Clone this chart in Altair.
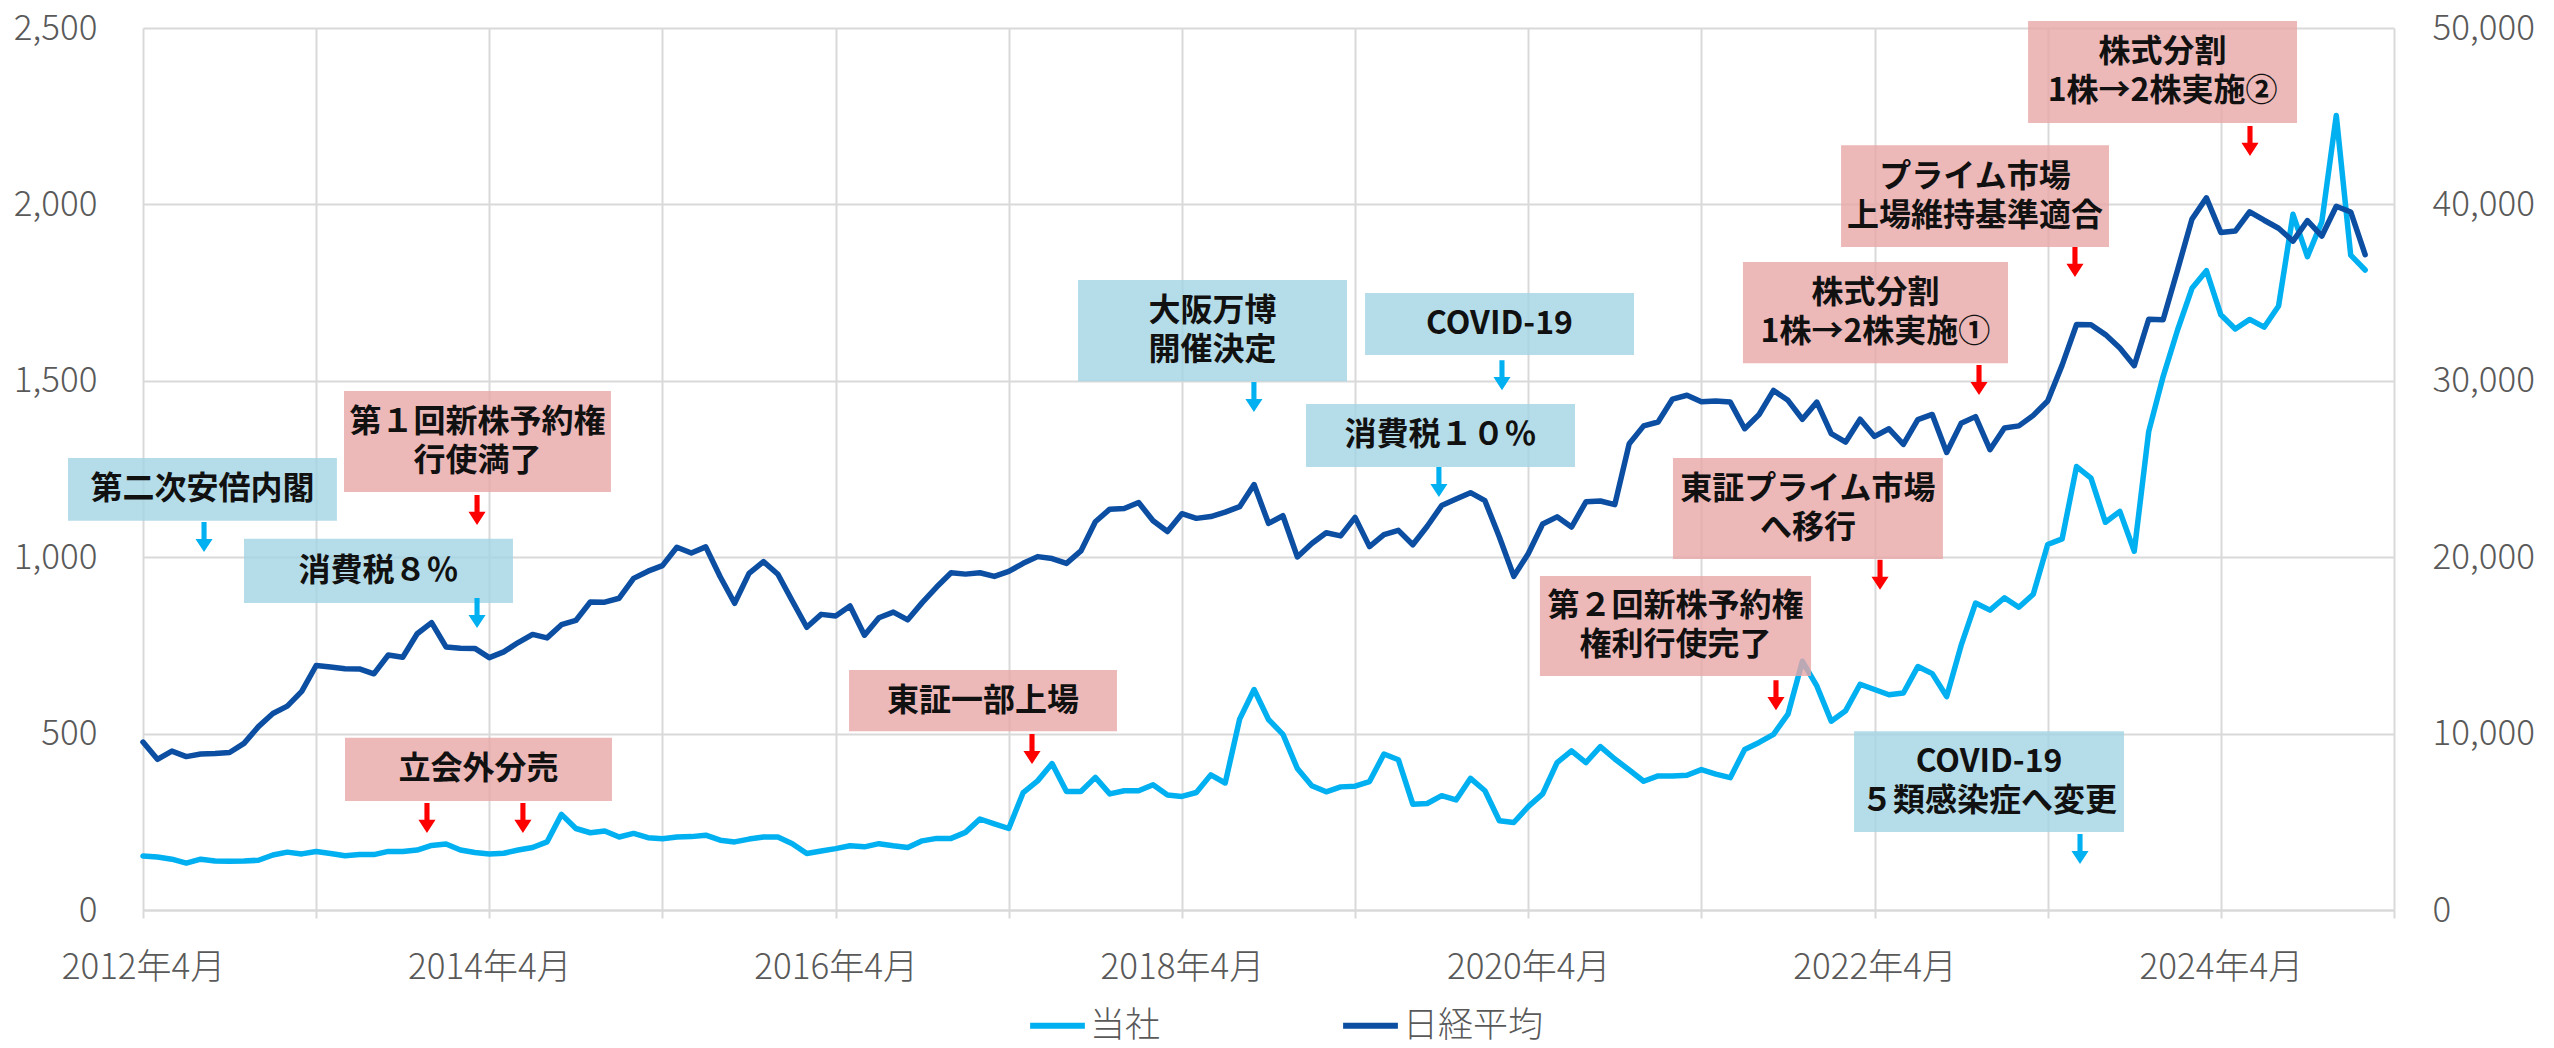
import altair as alt
import pandas as pd

# ---------------- data (one value per month, starting April 2012) ----------------
FIRST_YEAR = 2012

stock = [
    153, 150, 144, 133, 144, 139, 138, 139, 141, 156,
    164, 159, 166, 160, 154, 157, 157, 166, 166, 170,
    183, 187, 170, 163, 159, 161, 170, 177, 193, 271,
    231, 219, 224, 207, 217, 205, 202, 207, 208, 212,
    198, 193, 201, 207, 207, 188, 160, 167, 174, 182,
    179, 188, 182, 177, 196, 203, 203, 220, 258, 244,
    231, 333, 366, 415, 336, 336, 376, 329, 338, 338,
    355, 326, 322, 333, 383, 360, 541, 625, 540, 498,
    401, 352, 335, 349, 351, 364, 442, 426, 300, 302,
    324, 312, 373, 338, 253, 248, 293, 329, 418, 451,
    418, 463, 428, 397, 365, 380, 380, 382, 398, 385,
    375, 455, 475, 498, 555, 705, 635, 535, 565, 640,
    625, 610, 615, 690, 670, 605, 750, 870, 850, 885,
    858, 895, 1036, 1052, 1257, 1224, 1099, 1130, 1017, 1356,
    1512, 1644, 1762, 1812, 1687, 1647, 1674, 1652, 1712, 1972,
    1852, 1951, 2252, 1856, 1814,
]

nikkei = [
    9521, 8543, 9007, 8695, 8840, 8870, 8928, 9446, 10395,
    11139, 11559, 12398, 13861, 13775, 13677, 13668, 13389, 14456, 14328, 15662, 16291,
    14915, 14841, 14828, 14304, 14632, 15162, 15621, 15425, 16174, 16414, 17460, 17451,
    17674, 18798, 19207, 19520, 20563, 20236, 20585, 18890, 17388, 19083, 19747, 19034,
    17518, 16027, 16759, 16666, 17235, 15576, 16569, 16887, 16450, 17425, 18308, 19114,
    19041, 19119, 18909, 19197, 19651, 20033, 19925, 19646, 20356, 22012, 22725, 22765,
    23098, 22068, 21454, 22468, 22202, 22305, 22554, 22865, 24120, 21920, 22351, 20015,
    20773, 21385, 21206, 22259, 20601, 21276, 21522, 20704, 21756, 22927, 23294, 23657,
    23205, 21143, 18917, 20194, 21878, 22288, 21710, 23140, 23185, 22977, 26434, 27444,
    27663, 28966, 29179, 28813, 28860, 28792, 27284, 28090, 29453, 28893, 27822, 28792,
    27002, 26527, 27821, 26848, 27280, 26393, 27802, 28092, 25937, 27587, 27969, 26095,
    27327, 27446, 28041, 28856, 30888, 33189, 33172, 32619, 31858, 30859, 33487, 33464,
    36287, 39166, 40369, 38406, 38488, 39583, 39102, 38648, 37920, 39081, 38208, 39895,
    39572, 37156,
]

series_names = ["当社", "日経平均"]
series_colors = ["#00B0F0", "#0B4EA2"]

left_ticks = [0, 500, 1000, 1500, 2000, 2500]
right_ticks = [0, 10000, 20000, 30000, 40000, 50000]
month_ticks = list(range(0, 157, 12))

# ---------------- annotations ----------------
ann_labels = [
    "第二次安倍内閣",
    "第１回新株予約権\n行使満了",
    "消費税８％",
    "立会外分売",
    "東証一部上場",
    "大阪万博\n開催決定",
    "COVID-19",
    "消費税１０％",
    "第２回新株予約権\n権利行使完了",
    "東証プライム市場\nへ移行",
    "株式分割\n1株→2株実施①",
    "プライム市場\n上場維持基準適合",
    "株式分割\n1株→2株実施②",
    "COVID-19\n５類感染症へ変更",
]
ann_kind = ["blue", "pink", "blue", "pink", "pink", "blue", "blue", "blue",
            "pink", "pink", "pink", "pink", "pink", "blue"]
# box extents: month index (x) and left-axis value (y)
ann_m0 = [-5.20, 13.93, 7.00, 14.00, 48.93, 64.80, 84.69, 80.60, 96.81, 106.03, 110.88, 117.68, 130.64, 118.58]
ann_m1 = [13.44, 32.43, 25.64, 32.50, 67.50, 83.44, 103.33, 99.24, 115.60, 124.74, 129.25, 136.25, 149.28, 137.29]
ann_v0 = [1103, 1185, 870, 309, 507, 1499, 1573, 1256, 663, 995, 1550, 1879, 2231, 221]
ann_v1 = [1281, 1471, 1052, 488, 680, 1786, 1749, 1434, 947, 1281, 1837, 2168, 2520, 507]

arrow_m = [4.23, 23.15, 23.15, 19.68, 26.33, 61.61, 76.99, 94.18, 89.81, 113.17, 120.38, 127.24, 133.89, 146.02, 134.24]
arrow_v = [1057, 1134, 842, 261, 261, 456, 1454, 1516, 1213, 609, 950, 1502, 1837, 2180, 173]
arrow_kind = ["cyan", "red", "cyan", "red", "red", "red", "cyan", "cyan", "cyan",
              "red", "red", "red", "red", "red", "cyan"]

# ---------------- frames ----------------
df_stock = pd.DataFrame({"m": list(range(len(stock))), "v": stock, "series": series_names[0]})
df_nk = pd.DataFrame({"m": list(range(len(nikkei))), "v": nikkei, "series": series_names[1]})
df_box = pd.DataFrame({"label": ann_labels, "kind": ann_kind, "m0": ann_m0, "m1": ann_m1,
                       "v0": ann_v0, "v1": ann_v1})
df_box["mc"] = (df_box["m0"] + df_box["m1"]) / 2
df_box["vc"] = (df_box["v0"] + df_box["v1"]) / 2

rows = []
for _, r in df_box.iterrows():
    parts = r["label"].split("\n")
    if len(parts) == 1:
        rows.append({"t": parts[0], "mc": r["mc"], "vc": r["vc"], "pos": "single"})
    else:
        rows.append({"t": parts[0], "mc": r["mc"], "vc": r["vc"], "pos": "top"})
        rows.append({"t": parts[1], "mc": r["mc"], "vc": r["vc"], "pos": "bottom"})
df_lines = pd.DataFrame(rows)

df_arrow = pd.DataFrame({"m": arrow_m, "v": arrow_v, "kind": arrow_kind})

FONT = "Noto Sans CJK JP"
GRID = "#D9D9D9"
LABEL = "#595959"

x_scale = alt.Scale(domain=[0, 156], nice=False, zero=False)
y_left = alt.Scale(domain=[0, 2500], nice=False)
y_right = alt.Scale(domain=[0, 50000], nice=False)

color_scale = alt.Scale(domain=series_names, range=series_colors)
legend = alt.Legend(
    orient="none", legendX=884, legendY=967, direction="horizontal", title=None,
    symbolType="stroke", symbolSize=3000, symbolStrokeWidth=6,
    labelFont=FONT, labelFontSize=35, labelColor=LABEL, labelFontWeight=300,
    labelOffset=2, columnPadding=170, padding=0, labelLimit=0,
)

fill_scale = alt.Scale(domain=["pink", "blue", "red", "cyan"],
                       range=["#E8A6A6", "#A3D4E3", "#FF0000", "#00B0F0"])

x_axis = alt.Axis(
    values=month_ticks,
    labelExpr=f"datum.value % 24 == 0 ? ({FIRST_YEAR} + datum.value / 12) + '年4月' : ''",
    title=None, grid=True, gridColor=GRID, gridWidth=2,
    domain=True, domainColor=GRID, domainWidth=2,
    ticks=True, tickColor=GRID, tickWidth=2, tickSize=8,
    labelFont=FONT, labelFontSize=35, labelColor=LABEL, labelFontWeight=300,
    labelPadding=32, labelFlush=False, labelOverlap=False,
)


def X(field):
    return alt.X(field, scale=x_scale, axis=x_axis)


stock_line = alt.Chart(df_stock).mark_line(strokeWidth=5.5, strokeJoin="round", strokeCap="round").encode(
    x=X("m:Q"),
    y=alt.Y("v:Q", scale=y_left, axis=alt.Axis(
        orient="left", values=left_ticks, format=",.0f", title=None,
        grid=True, gridColor=GRID, gridWidth=2, domain=False, ticks=False,
        labelFont=FONT, labelFontSize=35, labelColor=LABEL, labelFontWeight=300,
        labelPadding=46)),
    color=alt.Color("series:N", scale=color_scale, legend=legend),
)

nikkei_line = alt.Chart(df_nk).mark_line(strokeWidth=5.5, strokeJoin="round", strokeCap="round").encode(
    x=X("m:Q"),
    y=alt.Y("v:Q", scale=y_right, axis=alt.Axis(
        orient="right", values=right_ticks, format=",.0f", title=None,
        grid=False, domain=False, ticks=False,
        labelFont=FONT, labelFontSize=35, labelColor=LABEL, labelFontWeight=300,
        labelPadding=38)),
    color=alt.Color("series:N", scale=color_scale, legend=legend),
)

boxes = alt.Chart(df_box).mark_rect(opacity=0.8).encode(
    x=X("m0:Q"), x2="m1:Q",
    y=alt.Y("v0:Q", scale=y_left, axis=None), y2="v1:Q",
    fill=alt.Fill("kind:N", scale=fill_scale, legend=None),
)


def text_layer(pos, dy):
    return alt.Chart(df_lines).transform_filter(
        alt.datum.pos == pos
    ).mark_text(
        font=FONT, fontSize=32, fontWeight="bold",
        align="center", baseline="middle", color="#111111", dy=dy,
    ).encode(
        x=X("mc:Q"),
        y=alt.Y("vc:Q", scale=y_left, axis=None),
        text="t:N",
    )


ARROW = "M -0.17 -1 L 0.17 -1 L 0.17 0.13 L 0.57 0.13 L 0 1 L -0.57 0.13 L -0.17 0.13 Z"
arrows = alt.Chart(df_arrow).mark_point(shape=ARROW, size=900, filled=True, opacity=1, strokeWidth=0).encode(
    x=X("m:Q"),
    y=alt.Y("v:Q", scale=y_left, axis=None),
    fill=alt.Fill("kind:N", scale=fill_scale, legend=None),
)

annotations = alt.layer(
    boxes,
    text_layer("single", 0),
    text_layer("top", -19.5),
    text_layer("bottom", 19.5),
    arrows,
)

chart = alt.layer(stock_line, nikkei_line, annotations).resolve_scale(
    y="independent"
).properties(
    width=2251, height=882,
    autosize=alt.AutoSizeParams(type="none"),
    padding={"left": 135, "top": 20, "right": 152, "bottom": 138},
).configure_view(stroke=None)

chart.save("out.html", embed_options={"renderer": "svg", "actions": False})
